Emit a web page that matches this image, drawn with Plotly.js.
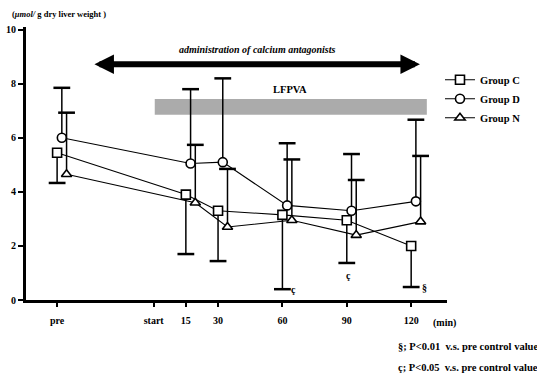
<!DOCTYPE html>
<html>
<head>
<meta charset="utf-8">
<script src="https://cdn.plot.ly/plotly-3.0.1.min.js"></script>
<style>html,body{margin:0;padding:0;background:#fff;}#chart{width:537px;height:375px;}</style>
</head>
<body>
<div id="chart"></div>
<script>
// ---- data ----
var timeLabels = ['pre', 'start', '15', '30', '60', '90', '120'];
var timeTicks = [-45, 0, 15, 30, 60, 90, 120];
var sampleTimes = [-45, 15, 30, 60, 90, 120];

var groupNames = ['Group C', 'Group D', 'Group N'];
var groupC = [5.45, 3.9, 3.3, 3.15, 2.95, 2.0];
var groupD = [6.0, 5.05, 5.1, 3.5, 3.3, 3.65];
var groupN = [4.65, 3.6, 2.7, 2.95, 2.4, 2.9];

// error bar end points (C drawn downward, D and N upward)
var groupCLow = [4.33, 1.7, 1.44, 0.4, 1.37, 0.48];
var groupDHigh = [7.85, 7.8, 8.2, 5.8, 5.4, 6.67];
var groupNHigh = [6.93, 5.74, 4.85, 5.2, 4.44, 5.33];

// significance marks for Group C
var groupCSig = ['', '', '', 'ç', 'ç', '§'];
var footnotes = ['§; P<0.01  v.s. pre control value', 'ç; P<0.05  v.s. pre control value'];

// ---- styling ----
var FONT = "'Liberation Serif', 'Times New Roman', serif";
var dxStep = 2.2; // horizontal offset between groups (minutes)
var symbols = ['square', 'circle', 'triangle-up'];
var values = [groupC, groupD, groupN];
var tips = [groupCLow, groupDHigh, groupNHigh];
var down = [true, false, false];

var traces = [];
values.forEach(function (vals, g) {
  var xs = sampleTimes.map(function (t) { return t + g * dxStep; });
  var plus = vals.map(function (v, i) { return down[g] ? 0 : tips[g][i] - v; });
  var minus = vals.map(function (v, i) { return down[g] ? v - tips[g][i] : 0; });
  // caps at the end of the whiskers
  traces.push({
    x: xs, y: tips[g], type: 'scatter', mode: 'markers', showlegend: false, hoverinfo: 'skip',
    marker: {symbol: 'line-ew', size: 12, color: 'black', line: {color: 'black', width: 2.5}}
  });
  traces.push({
    x: xs, y: vals, type: 'scatter', mode: 'lines+markers', name: groupNames[g],
    line: {color: 'black', width: 1.1},
    marker: {symbol: symbols[g], size: 9, color: 'white', line: {color: 'black', width: 1.6}},
    error_y: {type: 'data', symmetric: false, array: plus, arrayminus: minus, width: 0, thickness: 1.5, color: 'black'}
  });
});

var annotations = [];
var sigShift = {'60': [11, 0], '90': [2, -13], '120': [13, 0]};
groupCSig.forEach(function (s, i) {
  if (!s) return;
  var sh = sigShift[String(sampleTimes[i])] || [11, 0];
  annotations.push({
    x: sampleTimes[i], y: groupCLow[i], xref: 'x', yref: 'y', text: s, showarrow: false,
    xshift: sh[0], yshift: sh[1], font: {family: FONT, size: 10, color: 'black', weight: 'bold'}
  });
});

// double-headed arrow for administration period
annotations.push({
  x: 124.1, y: 8.72, ax: -28.3, ay: 8.72, xref: 'x', yref: 'y', axref: 'x', ayref: 'y',
  text: '', showarrow: true, arrowside: 'end+start', arrowhead: 2, startarrowhead: 2,
  arrowsize: 0.65, startarrowsize: 0.65, arrowwidth: 6, arrowcolor: 'black', standoff: 0, startstandoff: 0
});
annotations.push({
  x: 48.3, y: 9.26, xref: 'x', yref: 'y', showarrow: false,
  text: 'administration of calcium antagonists',
  font: {family: FONT, size: 10, color: 'black', weight: 'bold', style: 'italic'}
});
annotations.push({
  x: 63.5, y: 7.78, xref: 'x', yref: 'y', showarrow: false, text: 'LFPVA',
  font: {family: FONT, size: 10.5, color: 'black', weight: 'bold'}
});
annotations.push({
  x: -0.038, y: 1.048, xref: 'paper', yref: 'paper', xanchor: 'left', yanchor: 'middle', showarrow: false,
  text: '(<i>μmol/</i> g dry liver weight )',
  font: {family: FONT, size: 8.5, color: 'black', weight: 'bold'}
});
annotations.push({
  x: 0.995, y: -0.084, xref: 'paper', yref: 'paper', xanchor: 'center', yanchor: 'middle', showarrow: false,
  text: '(min)', font: {family: FONT, size: 10, color: 'black', weight: 'bold'}
});
footnotes.forEach(function (f, i) {
  annotations.push({
    x: 0.879, y: -0.172 - i * 0.077, xref: 'paper', yref: 'paper', xanchor: 'left', yanchor: 'middle',
    showarrow: false, text: f, font: {family: FONT, size: 10.5, color: 'black', weight: 'bold'}
  });
});

var layout = {
  width: 537, height: 375,
  margin: {l: 26, r: 89, t: 27, b: 75, pad: 0},
  paper_bgcolor: 'white', plot_bgcolor: 'white',
  font: {family: FONT, size: 10, color: 'black', weight: 'bold'},
  xaxis: {
    range: [-59.5, 136.7], tickvals: timeTicks, ticktext: timeLabels,
    showline: true, linewidth: 3, linecolor: 'black', ticks: 'outside', ticklen: 4, tickwidth: 2,
    tickcolor: 'black', showgrid: false, zeroline: false, ticklabelstandoff: 5,
    tickfont: {family: FONT, size: 10, color: 'black', weight: 'bold'}
  },
  yaxis: {
    range: [0, 10.1], tickvals: [0, 2, 4, 6, 8, 10],
    showline: true, linewidth: 3, linecolor: 'black', ticks: 'outside', ticklen: 5, tickwidth: 2,
    tickcolor: 'black', showgrid: false, zeroline: false,
    tickfont: {family: FONT, size: 10, color: 'black', weight: 'bold'}
  },
  shapes: [{
    type: 'rect', xref: 'x', yref: 'y', x0: 0.5, x1: 127.3, y0: 6.85, y1: 7.44,
    fillcolor: '#ababab', line: {width: 0}, layer: 'below'
  }],
  legend: {
    x: 0.981, y: 0.86, xanchor: 'left', yanchor: 'top', bgcolor: 'rgba(0,0,0,0)', borderwidth: 0,
    font: {family: FONT, size: 10.5, color: 'black', weight: 'bold'}, tracegroupgap: 0
  },
  annotations: annotations,
  showlegend: true
};

Plotly.newPlot('chart', traces, layout, {displayModeBar: false, staticPlot: true});
</script>
</body>
</html>
